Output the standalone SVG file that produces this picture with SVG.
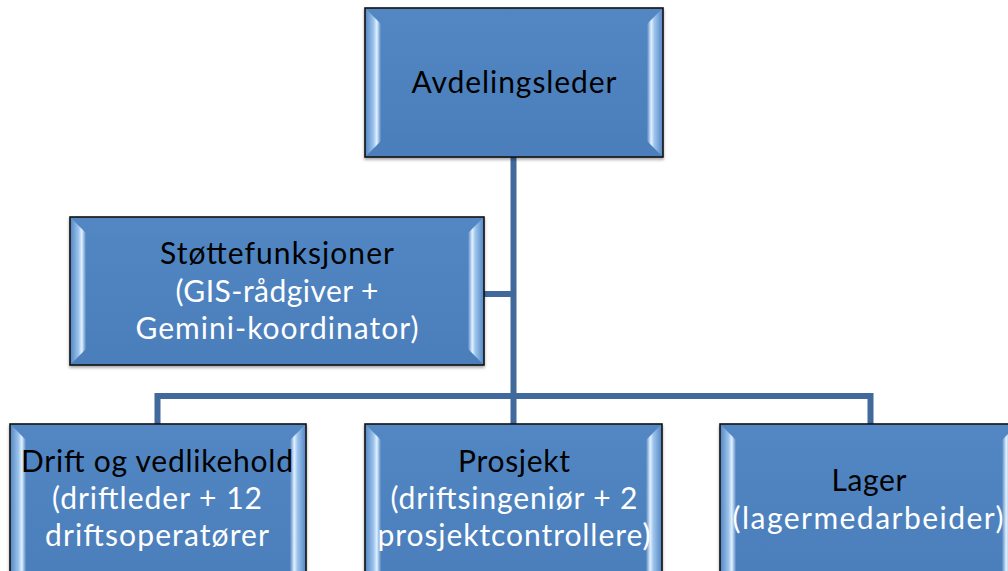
<svg xmlns="http://www.w3.org/2000/svg" width="1008" height="571" viewBox="0 0 1008 571">
<defs>
<linearGradient id="bodyG" x1="0" y1="0" x2="0" y2="1">
<stop offset="0" stop-color="#5287c4"/>
<stop offset="1" stop-color="#4b7eba"/>
</linearGradient>
<linearGradient id="bevL" x1="0" y1="0" x2="1" y2="0">
<stop offset="0" stop-color="#5a8cc8"/>
<stop offset="0.5" stop-color="#9cc3ec"/>
<stop offset="0.72" stop-color="#e2f1ff"/>
<stop offset="1" stop-color="#5285c2"/>
</linearGradient>
<linearGradient id="bevR" x1="1" y1="0" x2="0" y2="0">
<stop offset="0" stop-color="#5a8cc8"/>
<stop offset="0.5" stop-color="#9cc3ec"/>
<stop offset="0.72" stop-color="#e2f1ff"/>
<stop offset="1" stop-color="#5285c2"/>
</linearGradient>
<filter id="sh" x="-5%" y="-5%" width="110%" height="115%">
<feDropShadow dx="0" dy="2" stdDeviation="1.6" flood-color="#000" flood-opacity="0.35"/>
</filter>
</defs>
<style>
.body{fill:url(#bodyG);stroke:#141414;stroke-width:1.6;filter:url(#sh)}
.bl{fill:url(#bevL)}
.br{fill:url(#bevR)}
.conn{fill:none;stroke:#41699b;stroke-width:6;stroke-linecap:butt;stroke-linejoin:miter}
text{font-family:"Lato","Open Sans","Liberation Sans",sans-serif;font-size:30px;text-anchor:middle}
.k{fill:#000}
.w{fill:#fff}
</style>

<g id="connectors">
<path class="conn" d="M513.5 157 V424"/>
<path class="conn" d="M484 294 H513.5"/>
<path class="conn" d="M157.5 424 V396 H870.5 V424"/>
</g>

<g id="n-avdelingsleder">
<rect class="body" x="365" y="8" width="298" height="149"/>
<polygon class="bl" points="366,9 381,24 381,141 366,156"/>
<polygon class="br" points="662,9 647,24 647,141 662,156"/>
<text class="k" x="514" y="93" textLength="205" lengthAdjust="spacing">Avdelingsleder</text>
</g>

<g id="n-stotte">
<rect class="body" x="70" y="217" width="414" height="148"/>
<polygon class="bl" points="71,218 86,233 86,349 71,364"/>
<polygon class="br" points="483,218 468,233 468,349 483,364"/>
<text class="k" x="277" y="264" textLength="234" lengthAdjust="spacing">Støttefunksjoner</text>
<text class="w" x="277" y="302" textLength="203" lengthAdjust="spacing">(GIS-rådgiver +</text>
<text class="w" x="277" y="339" textLength="283" lengthAdjust="spacing">Gemini-koordinator)</text>
</g>

<g id="n-drift">
<rect class="body" x="10" y="424" width="296" height="160"/>
<polygon class="bl" points="11,425 26,440 26,580 11,580"/>
<polygon class="br" points="305,425 290,440 290,580 305,580"/>
<text class="k" x="157" y="472" textLength="272" lengthAdjust="spacing">Drift og vedlikehold</text>
<text class="w" x="157" y="509" textLength="210" lengthAdjust="spacing">(driftleder + 12</text>
<text class="w" x="157" y="546" textLength="224" lengthAdjust="spacing">driftsoperatører</text>
</g>

<g id="n-prosjekt">
<rect class="body" x="365" y="424" width="297" height="160"/>
<polygon class="bl" points="366,425 381,440 381,580 366,580"/>
<polygon class="br" points="661,425 646,440 646,580 661,580"/>
<text class="k" x="514" y="472" textLength="112" lengthAdjust="spacing">Prosjekt</text>
<text class="w" x="514" y="509" textLength="247" lengthAdjust="spacing">(driftsingeniør + 2</text>
<text class="w" x="514" y="546" textLength="273" lengthAdjust="spacing">prosjektcontrollere)</text>
</g>

<g id="n-lager">
<rect class="body" x="720" y="424" width="298" height="160"/>
<polygon class="bl" points="721,425 736,440 736,580 721,580"/>
<polygon class="br" points="1017,425 1002,440 1002,580 1017,580"/>
<text class="k" x="869" y="491" textLength="75" lengthAdjust="spacing">Lager</text>
<text class="w" x="868" y="529" textLength="271" lengthAdjust="spacing">(lagermedarbeider)</text>
</g>
</svg>
